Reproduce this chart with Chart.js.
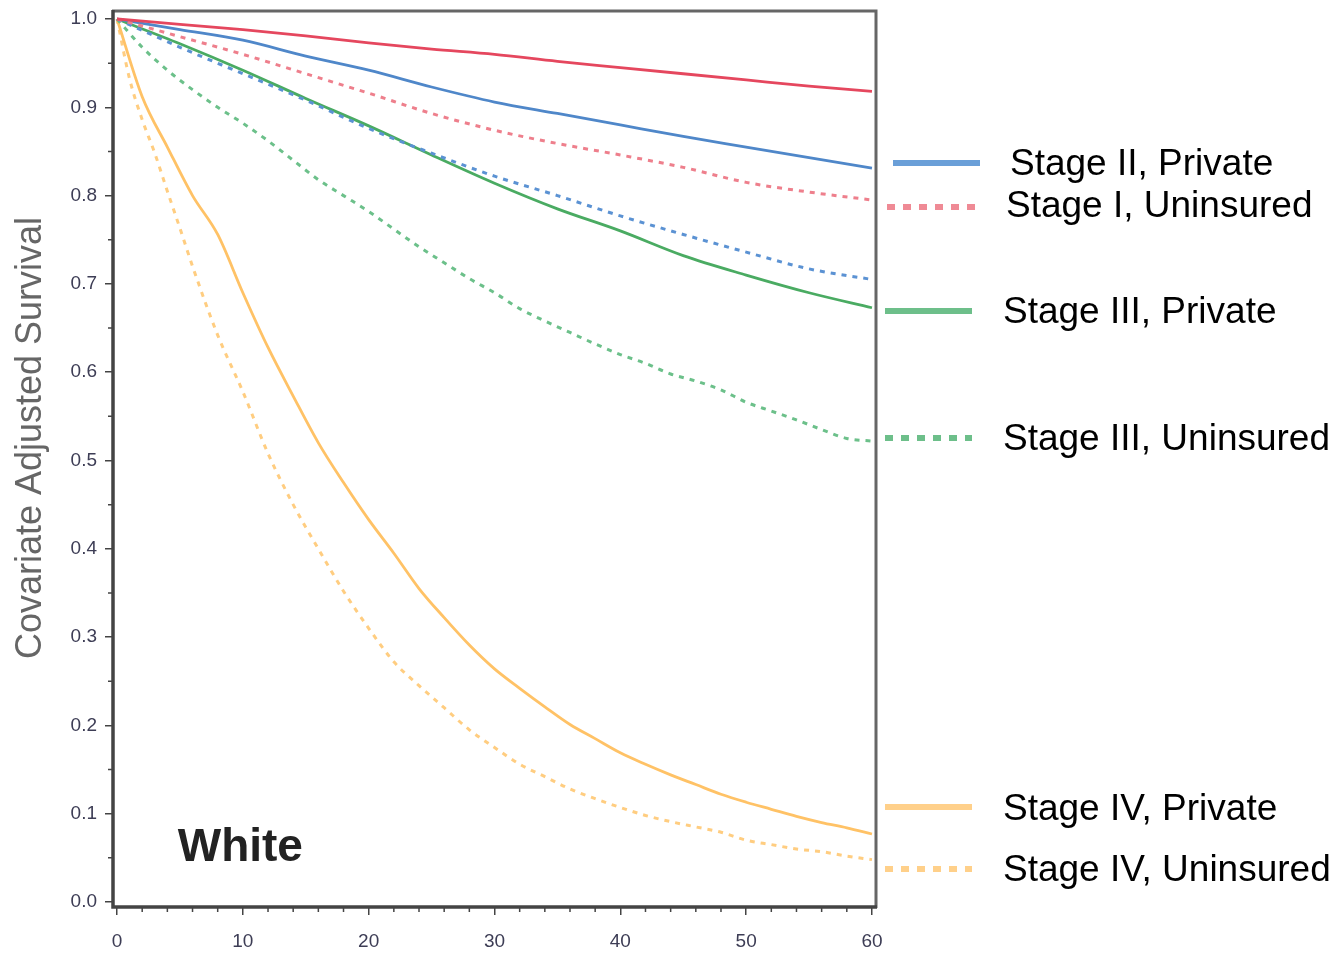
<!DOCTYPE html>
<html>
<head>
<meta charset="utf-8">
<script src="https://cdn.jsdelivr.net/npm/chart.js@4/dist/chart.umd.min.js"></script>
<style>
  html, body { margin: 0; padding: 0; background: #fff; }
  #wrap { width: 1335px; height: 953px; }
</style>
</head>
<body>
<div id="wrap"><canvas id="chart" width="1335" height="953"></canvas></div>
<script>
// months since diagnosis
const tCoarse = [0, 5, 10, 15, 20, 25, 30, 35, 40, 45, 50, 55, 60];
const tFine = [0, 2, 4, 6, 8, 10, 12, 14, 16, 18, 20, 22, 24, 26, 28, 30,
               32, 34, 36, 38, 40, 42, 44, 46, 48, 50, 52, 54, 56, 58, 60];
const tEarly = [0, 1, 2, 3, 4, 5, 6, 8, 10, 12, 14, 16, 18, 20, 22, 24, 26, 28, 30,
                32, 34, 36, 38, 40, 42, 44, 46, 48, 50, 52, 54, 56, 58, 60];

const stage1Private   = [1.0, 0.994, 0.988, 0.981, 0.973, 0.966, 0.960, 0.952, 0.945, 0.938, 0.931, 0.924, 0.918];
const stage1Uninsured = [1.0, 0.980, 0.960, 0.938, 0.916, 0.893, 0.874, 0.859, 0.846, 0.832, 0.815, 0.804, 0.795];
const stage2Private   = [1.0, 0.988, 0.976, 0.958, 0.942, 0.923, 0.906, 0.893, 0.880, 0.867, 0.855, 0.843, 0.831];
const stage2Uninsured = [1.0, 0.968, 0.938, 0.908, 0.876, 0.848, 0.822, 0.800, 0.777, 0.756, 0.736, 0.717, 0.705];
const stage3Private   = [1.0, 0.972, 0.942, 0.910, 0.879, 0.846, 0.814, 0.785, 0.760, 0.732, 0.710, 0.690, 0.673];
const stage3Uninsured = [1.0, 0.968, 0.942, 0.920, 0.900, 0.882, 0.862, 0.840, 0.818, 0.800, 0.782, 0.762, 0.742,
                         0.724, 0.706, 0.690, 0.672, 0.658, 0.645, 0.632, 0.620, 0.610, 0.598, 0.590, 0.580,
                         0.566, 0.556, 0.546, 0.535, 0.525, 0.522];
const stage4Private   = [1.0, 0.912, 0.855, 0.800, 0.756, 0.690, 0.628, 0.573, 0.520, 0.475, 0.433, 0.395, 0.355,
                         0.322, 0.291, 0.264, 0.242, 0.221, 0.201, 0.185, 0.169, 0.156, 0.144, 0.133, 0.122,
                         0.113, 0.105, 0.097, 0.090, 0.084, 0.077];
const stage4Uninsured = [1.0, 0.932, 0.886, 0.848, 0.805, 0.763, 0.720, 0.642, 0.578, 0.508, 0.450, 0.400, 0.352,
                         0.310, 0.272, 0.245, 0.220, 0.195, 0.175, 0.156, 0.142, 0.128, 0.117, 0.107, 0.098,
                         0.091, 0.085, 0.079, 0.070, 0.065, 0.060, 0.057, 0.052, 0.048];

const xTicks = [0, 10, 20, 30, 40, 50, 60];
const yTicks = [0, 0.1, 0.2, 0.3, 0.4, 0.5, 0.6, 0.7, 0.8, 0.9, 1.0];
const yTitle = 'Covariate Adjusted Survival';
const panelLabel = 'White';
const legendLabels = ['Stage II, Private', 'Stage I, Uninsured', 'Stage III, Private',
                      'Stage III, Uninsured', 'Stage IV, Private', 'Stage IV, Uninsured'];

const FONT = '"Liberation Sans", Arial, sans-serif';
const pts = (xs, ys) => xs.map((x, i) => ({ x: x, y: ys[i] }));
const DOT = [5, 6];

function line(label, xs, ys, color, dotted) {
  return {
    label: label,
    data: pts(xs, ys),
    borderColor: color,
    borderWidth: dotted ? 3 : 2.8,
    borderDash: dotted ? DOT : [],
    pointRadius: 0,
    cubicInterpolationMode: 'monotone',
    fill: false,
  };
}

// frame, minor ticks, axis title, panel label and the side legend
const decorations = {
  id: 'decorations',
  afterDraw(chart) {
    const { ctx, chartArea: a, scales: { x, y } } = chart;
    ctx.save();
    ctx.lineCap = 'butt';

    ctx.strokeStyle = '#666';
    ctx.lineWidth = 3;
    ctx.beginPath();
    ctx.moveTo(a.left, a.top + 1);
    ctx.lineTo(a.right - 1, a.top + 1);
    ctx.lineTo(a.right - 1, a.bottom);
    ctx.stroke();
    ctx.strokeStyle = '#444';
    ctx.lineWidth = 3.5;
    ctx.beginPath();
    ctx.moveTo(a.left + 1, a.top);
    ctx.lineTo(a.left + 1, a.bottom - 1);
    ctx.lineTo(a.right, a.bottom - 1);
    ctx.stroke();

    // minor ticks
    ctx.strokeStyle = '#444';
    ctx.lineWidth = 1.5;
    ctx.beginPath();
    for (let v = 0.05; v < 1; v += 0.1) {
      const py = y.getPixelForValue(v);
      ctx.moveTo(a.left - 4, py);
      ctx.lineTo(a.left, py);
    }
    for (let m = 2; m < 60; m += 2) {
      if (m % 10 === 0) continue;
      const px = x.getPixelForValue(m);
      ctx.moveTo(px, a.bottom);
      ctx.lineTo(px, a.bottom + 4);
    }
    ctx.stroke();

    // y axis title
    ctx.save();
    ctx.translate(31, 438);
    ctx.rotate(-Math.PI / 2);
    ctx.fillStyle = '#666';
    ctx.font = '36px ' + FONT;
    ctx.textAlign = 'center';
    ctx.textBaseline = 'middle';
    ctx.fillText(yTitle, 0, 0);
    ctx.restore();

    // panel label
    ctx.fillStyle = '#222';
    ctx.font = 'bold 46px ' + FONT;
    ctx.textAlign = 'center';
    ctx.textBaseline = 'middle';
    ctx.fillText(panelLabel, x.getPixelForValue(9.8), y.getPixelForValue(0.061));

    // legend: [label index, line x0, line x1, line y, text x, text y, color, dotted]
    const rows = [
      [0, 893, 980, 163, 1010, 165, '#6a9fd8', false],
      [1, 887, 976, 207, 1006, 207, '#ef8a95', true],
      [2, 885, 972, 311, 1003, 313, '#6dbf8a', false],
      [3, 885, 972, 438, 1003, 440, '#6dbf8a', true],
      [4, 885, 972, 807, 1003, 810, '#ffd08a', false],
      [5, 885, 972, 869, 1003, 871, '#ffd08a', true],
    ];
    ctx.font = '37px ' + FONT;
    ctx.textAlign = 'left';
    rows.forEach(([i, x0, x1, ly, tx, ty, col, dotted]) => {
      ctx.strokeStyle = col;
      ctx.lineWidth = 6;
      ctx.setLineDash(dotted ? [8, 8] : []);
      ctx.beginPath();
      ctx.moveTo(x0, ly);
      ctx.lineTo(x1, ly);
      ctx.stroke();
      ctx.setLineDash([]);
      ctx.fillStyle = '#000';
      ctx.fillText(legendLabels[i], tx, ty);
    });
    ctx.restore();
  },
};

const tickFont = { family: FONT, size: 19 };

new Chart(document.getElementById('chart').getContext('2d'), {
  type: 'line',
  data: {
    datasets: [
      line('Stage I, Private', tCoarse, stage1Private, '#e5475e', false),
      line('Stage I, Uninsured', tCoarse, stage1Uninsured, '#ee7f8c', true),
      line('Stage II, Private', tCoarse, stage2Private, '#4f87c9', false),
      line('Stage II, Uninsured', tCoarse, stage2Uninsured, '#5b92d3', true),
      line('Stage III, Private', tCoarse, stage3Private, '#4aab62', false),
      line('Stage III, Uninsured', tFine, stage3Uninsured, '#6cc08a', true),
      line('Stage IV, Private', tFine, stage4Private, '#ffc266', false),
      line('Stage IV, Uninsured', tEarly, stage4Uninsured, '#ffcd80', true),
    ],
  },
  options: {
    responsive: false,
    animation: false,
    layout: { padding: { top: 10, right: 458, left: 0, bottom: 0 } },
    plugins: { legend: { display: false }, tooltip: { enabled: false } },
    scales: {
      x: {
        type: 'linear',
        min: -0.4,
        max: 60.4,
        afterBuildTicks: (s) => { s.ticks = xTicks.map(v => ({ value: v })); },
        afterFit: (s) => { s.height = 45; s.paddingLeft = 0; s.paddingRight = 0; },
        grid: { drawOnChartArea: false, color: '#444', lineWidth: 1.5, tickLength: 7 },
        border: { display: false },
        ticks: { color: '#3d3d55', font: tickFont, padding: 15, maxRotation: 0 },
      },
      y: {
        type: 'linear',
        min: -0.0068,
        max: 1.0102,
        afterBuildTicks: (s) => { s.ticks = yTicks.map(v => ({ value: v })); },
        afterFit: (s) => { s.width = 112; s.paddingTop = 0; s.paddingBottom = 0; },
        grid: { drawOnChartArea: false, color: '#444', lineWidth: 1.5, tickLength: 7 },
        border: { display: false },
        ticks: { color: '#3d3d55', font: tickFont, padding: 8, callback: (v) => v.toFixed(1) },
      },
    },
  },
  plugins: [decorations],
});
</script>
</body>
</html>
